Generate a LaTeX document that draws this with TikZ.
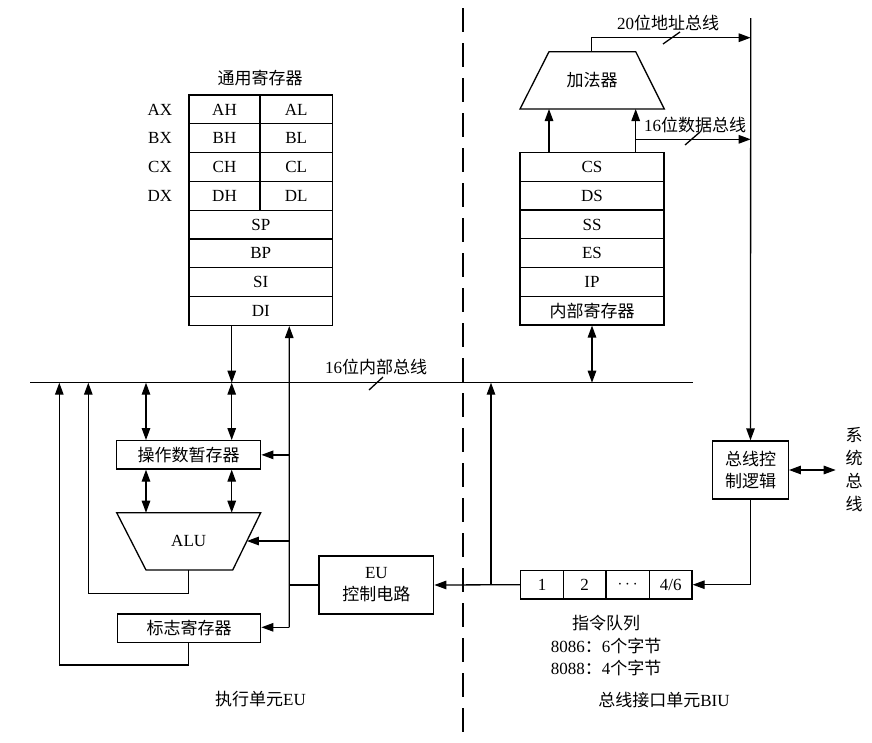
\documentclass[tikz,border=0pt]{standalone}
\usepackage{fontspec}
\setmainfont{Liberation Serif}
\newfontfamily\zhfont{Noto Sans CJK SC}
\newcommand{\zh}[1]{{\zhfont #1}}
\usetikzlibrary{arrows.meta}
\begin{document}
\begin{tikzpicture}[x=1pt,y=-1pt,
  line width=1.3pt,
  >={Triangle[length=12pt,width=8.5pt]},
  every node/.style={font=\fontsize{17}{22}\selectfont, inner sep=0pt},
  cell/.style={draw, rectangle, minimum height=28.8pt},
  seg/.style={draw, rectangle, minimum width=144pt, minimum height=28.7pt},
  qcell/.style={draw, rectangle, minimum height=28.6pt, minimum width=42.7pt},
  blk/.style={draw, rectangle, align=center},
  divider/.style={line width=2.4pt, dash pattern=on 24pt off 11pt}]
\useasboundingbox (0,0) rectangle (872,742);

% ---------- general registers ----------
\node (gtitle) at (260,78) {\zh{通用寄存器}};
\node[cell, minimum width=71pt]    (AH) at (224.5,109.4) {AH};
\node[cell, minimum width=72.5pt]  (AL) at (296.25,109.4) {AL};
\node[cell, minimum width=71pt]    (BH) at (224.5,138.2) {BH};
\node[cell, minimum width=72.5pt]  (BL) at (296.25,138.2) {BL};
\node[cell, minimum width=71pt]    (CH) at (224.5,167) {CH};
\node[cell, minimum width=72.5pt]  (CL) at (296.25,167) {CL};
\node[cell, minimum width=71pt]    (DH) at (224.5,195.8) {DH};
\node[cell, minimum width=72.5pt]  (DL) at (296.25,195.8) {DL};
\node[cell, minimum width=143.5pt] (SP) at (260.75,224.6) {SP};
\node[cell, minimum width=143.5pt] (BP) at (260.75,253.4) {BP};
\node[cell, minimum width=143.5pt] (SI) at (260.75,282.2) {SI};
\node[cell, minimum width=143.5pt] (DI) at (260.75,311) {DI};
\node (AX) at (160,109.4) {AX};
\node (BX) at (160,138.2) {BX};
\node (CX) at (160,167) {CX};
\node (DX) at (160,195.8) {DX};

% ---------- segment registers ----------
\node[seg] (CS) at (592,167.05) {CS};
\node[seg] (DS) at (592,195.75) {DS};
\node[seg] (SS) at (592,224.45) {SS};
\node[seg] (ES) at (592,253.15) {ES};
\node[seg] (IP) at (592,281.85) {IP};
\node[seg] (IR) at (592,310.55) {\zh{内部寄存器}};

% ---------- adder ----------
\draw (549,51.7) -- (635.7,51.7) -- (664.3,109) -- (520,109) -- cycle;
\node (adder) at (592,80) {\zh{加法器}};
\coordinate (adL) at (549,109);
\coordinate (adR) at (635.7,109);
\coordinate (adTop) at (591.7,51.7);
\draw[->] (CS.north -| adL) -- (adL);
\draw[->] (CS.north -| adR) -- (adR);

% ---------- system-side vertical line ----------
\coordinate (vtop) at (750.7,18);
\node[blk, minimum width=75.6pt, minimum height=58pt] (bcl) at (750.5,470) {\zh{总线控}\\\zh{制逻辑}};
\draw[->] (vtop) -- (bcl.north);
\coordinate (abus) at (750.7,37.7);
\draw[->] (adTop) |- (abus);
\coordinate (dbus) at (635.7,139.3);
\draw[->] (dbus) -- (dbus -| vtop);
\draw (663,44) -- (680,32);
\draw (685,145) -- (700,132);
\node (lab20) at (668,23) {20\zh{位地址总线}};
\node (lab16d) at (695,125) {16\zh{位数据总线}};

% system bus
\coordinate (sysb) at (835.7,470);
\draw[<->] (bcl.east) -- (sysb);
\node[align=center, font=\fontsize{17}{23}\selectfont] (sysl) at (854,470) {\zh{系}\\\zh{统}\\\zh{总}\\\zh{线}};

% ---------- internal bus ----------
\coordinate (busL) at (30,382.7);
\coordinate (busR) at (692.7,382.7);
\draw (busL) -- (busR);
\draw (369,390) -- (383,377);
\node (lab16i) at (376,367) {16\zh{位内部总线}};
\draw[<->] (IR.south) -- (IR.south |- busL);
\draw[->] ([xshift=-29pt]DI.south) -- ([xshift=-29pt]DI.south |- busL);

% ---------- EU ----------
\node[blk, minimum width=144pt, minimum height=28.3pt] (opr) at (188.7,454.85) {\zh{操作数暂存器}};
\draw (116.7,512.7) -- (260.7,512.7) -- (232.7,570) -- (146,570) -- cycle;
\node (alu) at (188.7,541) {ALU};
\coordinate (aluT1) at (146,512.7);
\coordinate (aluT2) at (231.7,512.7);
\coordinate (aluR) at (246.9,541);
\coordinate (aluB) at (188.3,570);
\node[blk, minimum width=143.4pt, minimum height=28.3pt] (flag) at (189,628.2) {\zh{标志寄存器}};

\draw[<->] (aluT1 |- busL) -- (aluT1 |- opr.north);
\draw[<->] (aluT2 |- busL) -- (aluT2 |- opr.north);
\draw[<->] (aluT1 |- opr.south) -- (aluT1);
\draw[<->] (aluT2 |- opr.south) -- (aluT2);

% control line
\coordinate (ctlTop) at ([xshift=28.5pt]DI.south);
\coordinate (ctlBot) at (289.3,627.3);
\draw[->] (ctlBot) -- (ctlTop);
\draw[->] (ctlBot |- opr.east) -- (opr.east);
\draw[->] (ctlBot |- aluR) -- (aluR);
\draw[->] (ctlBot) -- (ctlBot -| flag.east);

\node[blk, minimum width=114.7pt, minimum height=58pt] (eu) at (376.35,585) {EU\\\zh{控制电路}};
\draw (eu.west) -- (eu.west -| ctlBot);

% feedback lines
\coordinate (fb1) at (88.3,593.3);
\coordinate (fb2) at (59.3,665);
\draw[->] (aluB) |- (fb1) -- (fb1 |- busL);
\draw[->] (flag.south -| aluB) |- (fb2) -- (fb2 |- busL);

% ---------- instruction queue ----------
\node[qcell, minimum width=42.6pt] (q1) at (542,584.7) {1};
\node[qcell] (q2) at (584.65,584.7) {2};
\node[qcell, minimum width=43.3pt] (q3) at (627.65,584.7) {$\cdots$};
\node[qcell] (q4) at (670.65,584.7) {4/6};
\draw[->] (q1.west) -- (eu.east);
\coordinate (upq) at (491,584.7);
\draw[->] (upq) -- (upq |- busL);
\draw[->] (bcl.south) |- (q4.east);

\node (qt1) at (606,623.3) {\zh{指令队列}};
\node (qt2) at (606,645.7) {8086\zh{：}6\zh{个字节}};
\node (qt3) at (606,667.7) {8088\zh{：}4\zh{个字节}};

% ---------- bottom labels & divider ----------
\node (leu) at (260.5,699.5) {\zh{执行单元}EU};
\node (lbiu) at (664,700) {\zh{总线接口单元}BIU};
\coordinate (dvT) at (462.7,8.3);
\coordinate (dvB) at (462.7,742);
\draw[divider] (dvT) -- (dvB);
\end{tikzpicture}
\end{document}
